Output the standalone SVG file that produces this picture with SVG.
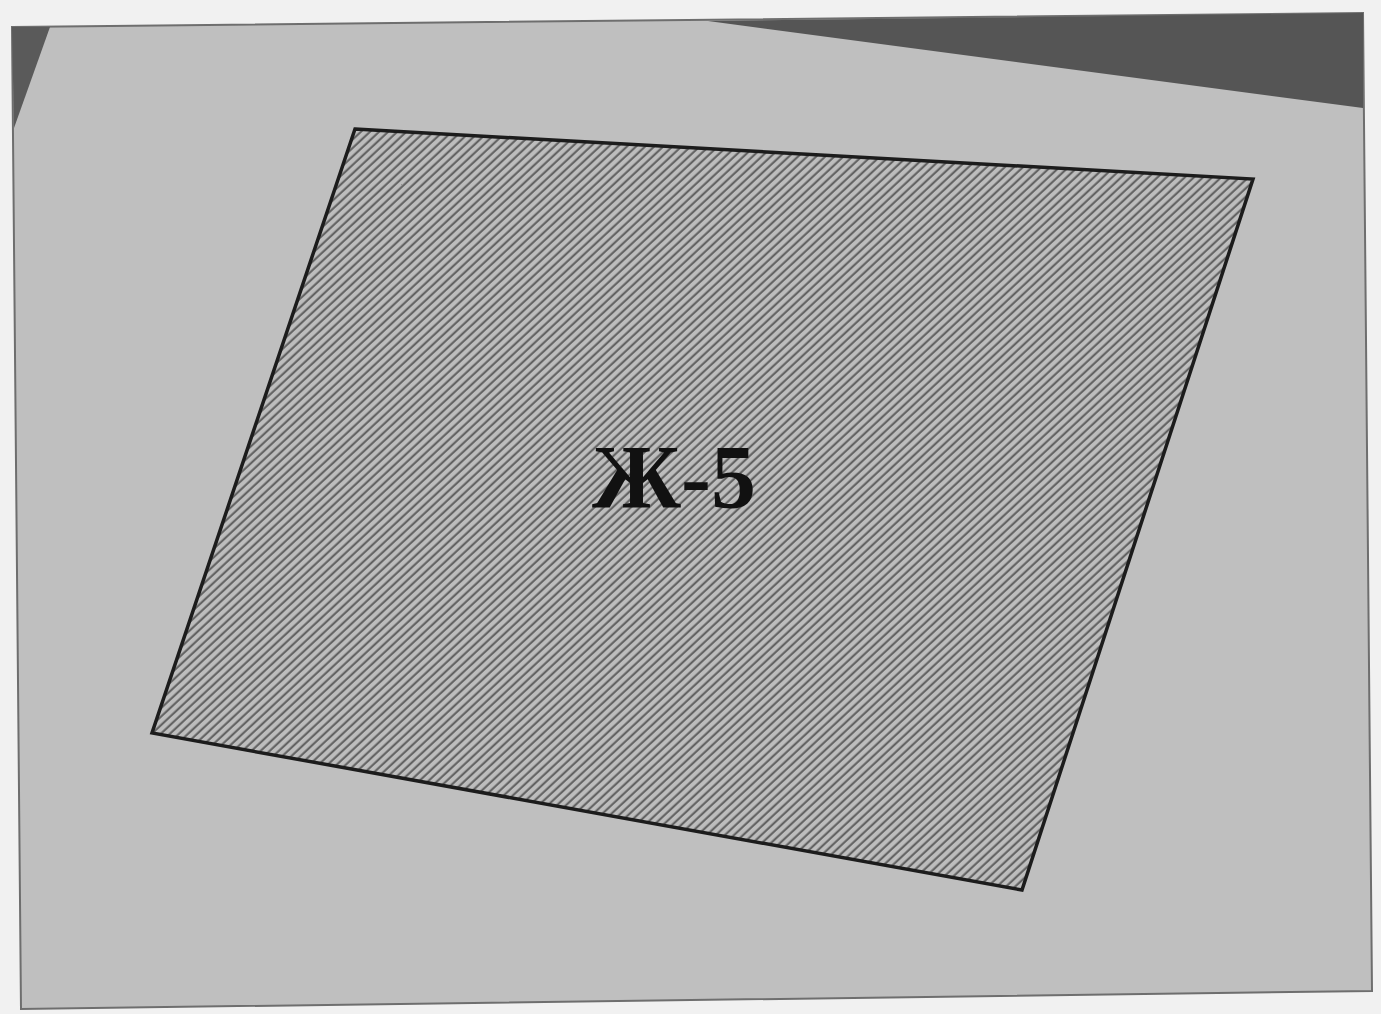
<svg xmlns="http://www.w3.org/2000/svg" width="1381" height="1014" viewBox="0 0 1381 1014">
  <style>
    .label { font-family: "Liberation Serif", "Times New Roman", serif; font-weight: bold; font-size: 90px; fill: #111; }
  </style>
  <defs>
    <pattern id="hatch" patternUnits="userSpaceOnUse" width="6.2" height="6.2" patternTransform="rotate(47)">
      <rect width="6.2" height="6.2" fill="#bdbdbd"/>
      <line x1="1.5" y1="0" x2="1.5" y2="6.2" stroke="#5c5c5c" stroke-width="2"/>
    </pattern>
  </defs>
  <rect width="1381" height="1014" fill="#f1f1f1"/>
  <g id="page">
    <polygon points="12,27 1363,13 1372,991 21,1009" fill="#bfbfbf" stroke="#6e6e6e" stroke-width="2"/>
    <polygon points="12,27 50,27 14,128" fill="#5a5a5a"/>
    <polygon points="708,21 1363,13 1363,108" fill="#555555"/>
  </g>
  <g id="node-zh5">
    <polygon points="355,129 1253,179 1022,890 152,733" fill="url(#hatch)" stroke="#1c1c1c" stroke-width="3.5" stroke-linejoin="miter"/>
    <text class="label" x="592" y="508">Ж-5</text>
  </g>
  <g id="connectors"/>
</svg>
